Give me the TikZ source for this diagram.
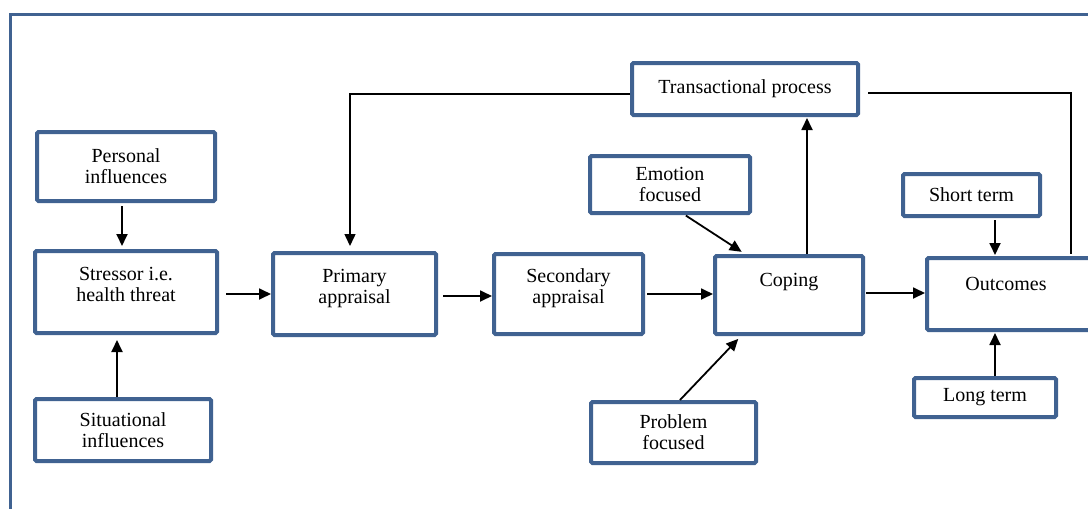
\documentclass[tikz,border=0pt]{standalone}
\usepackage{fontspec}
\setmainfont{Liberation Serif}
\usepackage{tikz}
\usetikzlibrary{arrows.meta,positioning,calc}
\definecolor{boxblue}{RGB}{64,98,145}

\begin{document}
\begin{tikzpicture}[
  x=1pt, y=-1pt,
  font=\fontsize{20}{21}\selectfont,
  box/.style={draw=boxblue, line width=4pt, rounded corners=1.5pt, align=center, inner sep=0pt},
  lift/.style={text depth=#1},
  arr/.style={-{Triangle[length=12pt,width=11pt]}, line width=1.8pt},
  feed/.style={line width=1.5pt},
]
\clip (0,0) rectangle (1088,509);
\draw[boxblue, line width=3pt] (10,14) rectangle (1110,530);

% boxes
\node[box, minimum width=178pt, minimum height=69pt] (pers) at (126,166.5) {Personal\\influences};
\node[box, minimum width=182pt, minimum height=82pt, lift=16pt] (stress) at (126,292) {Stressor i.e.\\health threat};
\node[box, minimum width=176pt, minimum height=62pt] (situ) at (123,430) {Situational\\influences};
\node[box, minimum width=163pt, minimum height=82pt, lift=16pt] (prim) at (354.5,294) {Primary\\appraisal};
\node[box, minimum width=149pt, minimum height=80pt, lift=16pt] (sec) at (568.5,294) {Secondary\\appraisal};
\node[box, minimum width=148pt, minimum height=78pt, lift=30pt] (cope) at (789,295) {Coping};
\node[box, minimum width=226pt, minimum height=52pt] (trans) at (745,89) {Transactional process};
\node[box, minimum width=160pt, minimum height=57pt] (emo) at (670,184.5) {Emotion\\focused};
\node[box, minimum width=165pt, minimum height=61pt] (prob) at (673.5,432.5) {Problem\\focused};
\node[box, minimum width=137pt, minimum height=42pt] (short) at (971.5,195) {Short term};
\node[box, minimum width=170pt, minimum height=72pt, lift=20pt] (outc) at (1012,294) {\hspace*{-12pt}Outcomes};
\node[box, minimum width=142pt, minimum height=39pt] (long) at (985,397.5) {Long term};

% main chain
\draw[arr, shorten <=7pt] (stress.east |- prim.west) -- (prim.west);
\draw[arr, shorten <=5pt] ([yshift=-2pt]prim.east) -- ([yshift=-2pt]prim.east -| sec.west);
\draw[arr, shorten <=2pt] (sec.east) -- (sec.east -| cope.west);
\draw[arr, shorten <=1pt] ([yshift=2pt]cope.east) -- ([yshift=2pt]cope.east -| outc.west);

% influences on the stressor
\draw[arr, shorten <=3pt, shorten >=3pt] ([xshift=-4pt]pers.south) -- ([xshift=-4pt]pers.south |- stress.north);
\draw[arr, shorten >=5pt] ([xshift=-6pt]situ.north) -- ([xshift=-6pt]situ.north |- stress.south);

% coping styles
\draw[arr, shorten <=1pt, shorten >=4pt] ([xshift=15pt]emo.south) -- ([xshift=-44pt]cope.north);
\draw[arr, shorten >=4pt] ([xshift=6.5pt]prob.north) -- ([xshift=-48pt]cope.south);

% outcomes
\draw[arr, shorten <=2pt, shorten >=1pt] ([xshift=23.5pt]short.south) -- ([xshift=23.5pt]short.south |- outc.north);
\draw[arr, shorten >=1pt] ([xshift=10pt]long.north) -- ([xshift=10pt]long.north |- outc.south);

% transactional loop
\draw[arr, shorten >=1pt] ([xshift=18pt]cope.north) -- ([xshift=18pt]cope.north |- trans.south);
\draw[arr, feed, shorten >=5pt] ([yshift=-5pt]trans.west) -| ([xshift=-4.5pt]prim.north);
\draw[feed, shorten <=8pt, shorten >=2pt] ([yshift=-4pt]trans.east) -| ([xshift=59pt]outc.north);
\end{tikzpicture}
\end{document}
